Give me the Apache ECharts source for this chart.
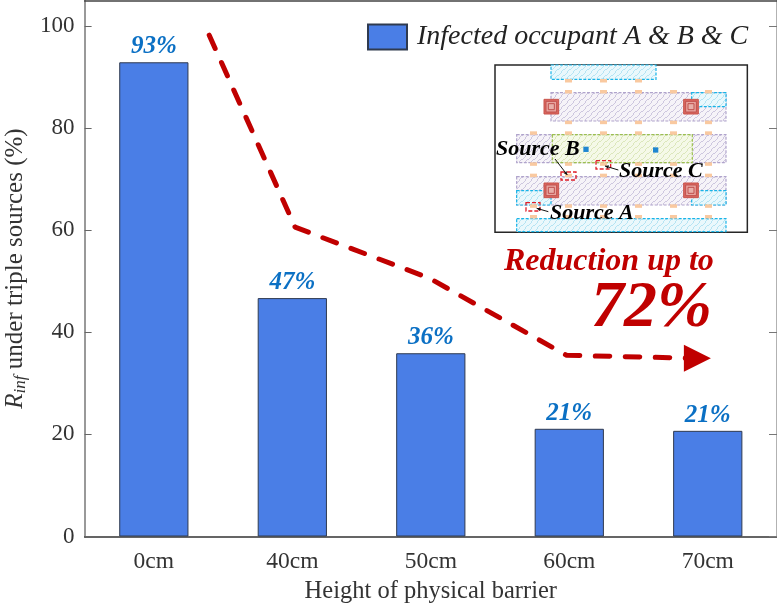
<!DOCTYPE html>
<html><head><meta charset="utf-8">
<style>html,body{margin:0;padding:0;background:#fff}#c{width:777px;height:604px}</style>
<script src="https://cdn.jsdelivr.net/npm/echarts@6/dist/echarts.min.js"></script>
</head><body><div id="c"></div>
<script>
const categories = ['0cm','40cm','50cm','60cm','70cm'];
const rInf = [92.9,46.7,35.9,21.1,20.7];
const barLabels = ['93%','47%','36%','21%','21%'];
const seriesName = 'Infected occupant A & B & C';
// trend arrow, x in category-index units, y in axis units
const trendX = [0.40,1.02,1.99,2.98,3.925];
const trendY = [98.2,60.6,50.6,35.5,34.9];
const yTicks = [0,20,40,60,80,100];

const SERIF='"Liberation Serif","Times New Roman",serif';
const CAMB='"Liberation Serif",serif';
const RED='#c00000';

function hatch(color,bg){
  const s=6,c=document.createElement('canvas');c.width=c.height=s;
  const g=c.getContext('2d');g.fillStyle=bg;g.fillRect(0,0,s,s);
  g.strokeStyle=color;g.lineWidth=0.8;
  g.beginPath();g.moveTo(-1,s-1);g.lineTo(s-1,-1);g.moveTo(2,s+1);g.lineTo(s+1,2);g.stroke();
  return {image:c,repeat:'repeat'};
}
// inset, in zoomed-crop units
const zx=v=>490+v/3, zy=v=>60+v/3;
const g=[];
function box(x0,y0,x1,y1,stroke,fill,dash,lw){
  g.push({type:'rect',z:10,shape:{x:zx(x0),y:zy(y0),width:(x1-x0)/3,height:(y1-y0)/3},
    style:{fill:fill||'transparent',stroke,lineWidth:lw||1,lineDash:dash||null}});
}
function label(t,x,base,size,color){
  g.push({type:'text',z:14,x,y:base-0.78*size,style:{text:t,font:'italic bold '+size+'px '+CAMB,fill:color,textAlign:'left'}});
}
box(15,15,772,517,'#262626','#fff',null,1.5);
const cy=hatch('#a8def0','#eaf8fc'), pu=hatch('#c4bbd8','#f6f3f8'), gr=hatch('#d6e2b0','#f5f9e8');
const dsh=[3,1.5];
box(183,15,498,58,'#18b4e8',cy,dsh,1.2);
box(183,98,708,183,'#b0a4cc',pu,dsh,1.2);
box(605,98,708,140,'#18b4e8',cy,dsh,1.2);
box(80,224,708,308,'#b0a4cc',pu,dsh,1.2);
box(187,224,607,308,'#9cc050',gr,dsh,1.2);
box(80,350,708,435,'#b0a4cc',pu,dsh,1.2);
box(80,392,183,435,'#18b4e8',cy,dsh,1.2);
box(605,392,708,435,'#18b4e8',cy,dsh,1.2);
box(80,476,708,515,'#18b4e8',cy,dsh,1.2);
const ox=[130,235,340,445,550,655];
[[62,[235,340,445]],[95,ox.slice(1)],[187,ox.slice(1)],[219,ox],[312,ox],[346,ox],[438,ox],[470,ox]].forEach(([y,xs])=>{
  xs.forEach(x=>g.push({type:'rect',z:11,shape:{x:zx(x-10),y:zy(y-5),width:7,height:3.5},style:{fill:'#f9c9a0'}}));
});
[[184,140],[603,140],[184,391],[603,391]].forEach(([x,y])=>{
  [[22,'#d9675f','#c9534b'],[16,'#e8a49e','#c0504d'],[9,'#e8b0aa','#c0504d']].forEach(([r,f,s])=>{
    g.push({type:'rect',z:12,shape:{x:zx(x-r),y:zy(y-r),width:2*r/3,height:2*r/3},style:{fill:f,stroke:s,lineWidth:1}});
  });
});
[[288,268],[497,270]].forEach(([x,y])=>g.push({type:'rect',z:12,shape:{x:zx(x-8),y:zy(y-8),width:5.3,height:5.3},style:{fill:'#1f86d0'}}));
[[108,428,150,453],[318,302,362,327],[213,336,258,360]].forEach(r=>box(r[0],r[1],r[2],r[3],'#e0202a','transparent',[4,2],1.3));
[[195,297,232,345],[385,330,345,318],[175,455,140,445]].forEach(([a,b,c,d])=>{
  g.push({type:'line',z:13,shape:{x1:zx(a),y1:zy(b),x2:zx(c),y2:zy(d)},style:{stroke:'#111',lineWidth:1}});
  const t=Math.atan2(d-b,c-a),L=4;
  g.push({type:'polygon',z:13,shape:{points:[[zx(c),zy(d)],[zx(c)-L*Math.cos(t-.45),zy(d)-L*Math.sin(t-.45)],[zx(c)-L*Math.cos(t+.45),zy(d)-L*Math.sin(t+.45)]]},style:{fill:'#111'}});
});
label('Source B',496,155.5,22,'#000');
label('Source C',619,177,22,'#000');
label('Source A',550,219,22,'#000');
label('Reduction up to',504,271,32,RED);
label('72%',591,327,66,RED);

const chart=echarts.init(document.getElementById('c'),null,{renderer:'canvas'});
const axisStyle={color:'#333',fontFamily:SERIF,fontSize:23};
chart.setOption({
  animation:false,
  backgroundColor:'#fff',
  graphic:g,
  grid:{left:84.6,right:0,top:0.5,bottom:67.5,outerBoundsMode:'none'},
  legend:{left:367,top:23,itemWidth:39,itemHeight:25,itemGap:0,padding:0,icon:'rect',
    data:[{name:seriesName,icon:'rect'}],
    textStyle:{fontFamily:SERIF,fontStyle:'italic',fontSize:28,color:'#222',padding:[0,0,0,5]}},
  xAxis:[
    {type:'category',data:categories,position:'bottom',
     axisLine:{onZero:false,lineStyle:{color:'#333',width:1.5}},
     axisTick:{inside:true,alignWithLabel:true,length:7,lineStyle:{color:'#666'}},
     axisLabel:{...axisStyle,fontSize:23.5,margin:13},
     name:'Height of physical barrier',nameLocation:'middle',nameGap:43,
     nameTextStyle:{fontFamily:SERIF,fontSize:24.5,color:'#333'}},
    {type:'category',data:categories,position:'top',
     axisLine:{onZero:false,lineStyle:{color:'#444',width:1.5}},
     axisTick:{inside:true,alignWithLabel:true,length:7,lineStyle:{color:'#666'}},
     axisLabel:{show:false}},
    {type:'value',min:-0.5,max:4.5,show:false}
  ],
  yAxis:[
    {type:'value',min:0,max:105,
     axisLine:{show:true,onZero:false,lineStyle:{color:'#999',width:2}},
     axisTick:{show:true,inside:true,length:7,lineStyle:{color:'#666'},customValues:yTicks},
     splitLine:{show:false},
     axisLabel:{...axisStyle,margin:10,customValues:yTicks},
     name:'{i|R}{s|inf}{n| under triple sources (%)}',nameLocation:'middle',nameGap:56,
     nameTextStyle:{rich:{
       i:{fontFamily:SERIF,fontStyle:'italic',fontSize:25,color:'#333'},
       s:{fontFamily:SERIF,fontStyle:'italic',fontSize:17,color:'#333',verticalAlign:'bottom',padding:[10,0,0,0]},
       n:{fontFamily:SERIF,fontSize:25,color:'#333'}}}},
    {type:'value',min:0,max:105,position:'right',
     axisLine:{show:true,onZero:false,lineStyle:{color:'#999',width:1.5}},
     axisTick:{show:true,inside:true,length:8,lineStyle:{color:'#777'},customValues:yTicks},
     splitLine:{show:false},axisLabel:{show:false}}
  ],
  series:[
    {name:seriesName,type:'bar',xAxisIndex:0,yAxisIndex:0,data:rInf,barWidth:'50%',
     itemStyle:{color:'#4a7ee6',borderColor:'#2f3a4f',borderWidth:1},
     label:{show:true,position:'top',distance:3,
       formatter:p=>barLabels[p.dataIndex],
       fontFamily:CAMB,fontStyle:'italic',fontWeight:'bold',fontSize:25,color:'#0b70c4'}},
    {name:'trend',type:'line',xAxisIndex:2,yAxisIndex:0,z:5,silent:true,
     data:trendX.map((x,i)=>i===trendX.length-1
       ?{value:[x,trendY[i]],symbol:'triangle',symbolSize:[27,27],symbolRotate:-90}
       :{value:[x,trendY[i]],symbol:'none'}),
     showSymbol:true,
     lineStyle:{color:RED,width:5,type:[14.5,15.5],cap:'round'},
     itemStyle:{color:RED}}
  ]
});
</script></body></html>
